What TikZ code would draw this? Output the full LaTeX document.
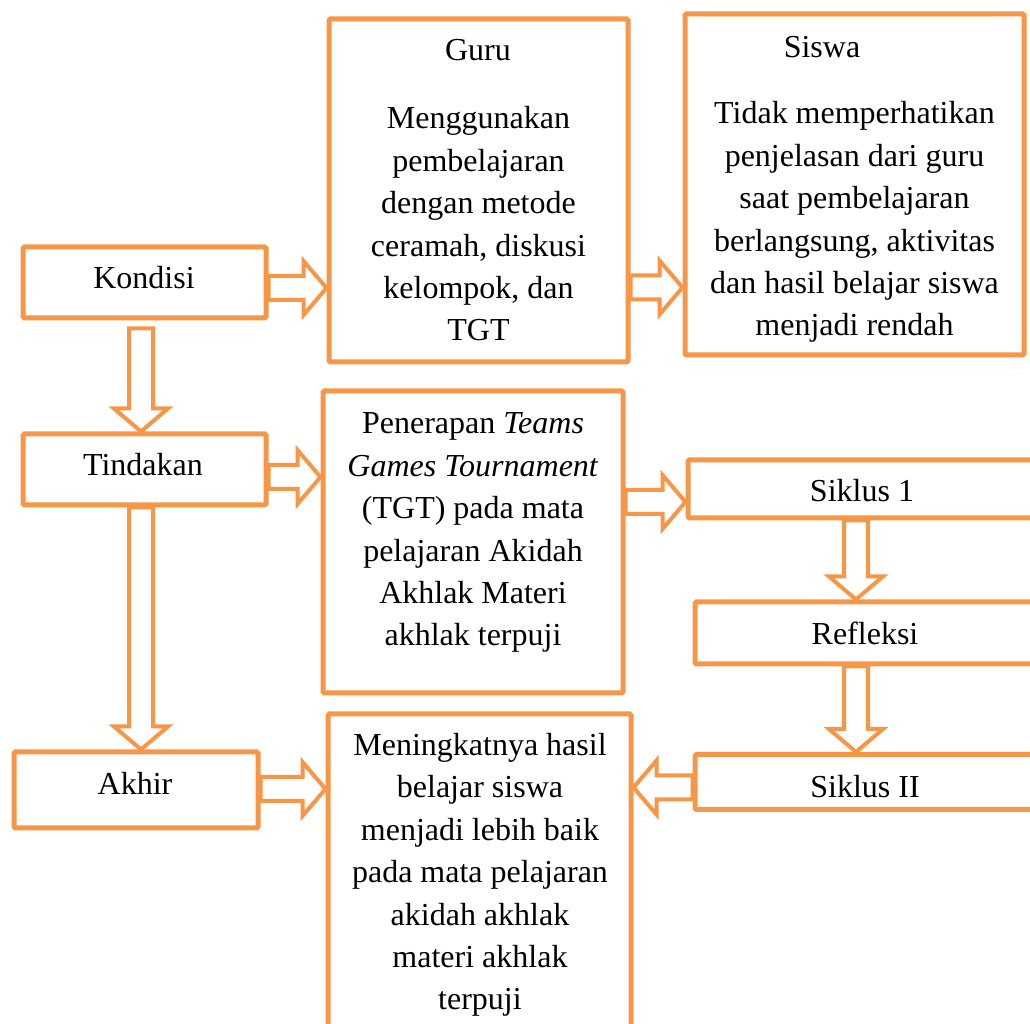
\documentclass[tikz,border=0pt]{standalone}
\usepackage{fontspec}
\setmainfont{Liberation Serif}
\usepackage{tikz}
\usetikzlibrary{calc}
\definecolor{flowOrange}{RGB}{247, 150, 70}

\begin{document}
\begin{tikzpicture}[x=1pt, y=1pt,
    box/.style={rectangle, draw=flowOrange, line width=5pt, rounded corners=1.5pt, fill=white},
    txt/.style={anchor=base, align=center, inner sep=0pt, font=\fontsize{32}{42.4}\selectfont},
    arrow/.style={draw=flowOrange, line width=4pt, fill=white,
      to path={let \p1=(\tikztostart), \p2=(\tikztotarget),
        \n1={atan2(\y2-\y1,\x2-\x1)}, \n2={veclen(\x2-\x1,\y2-\y1)-23} in
        ($(\p1)+(\n1+90:12)$) -- ($(\p1)+(\n1:\n2)+(\n1+90:12)$)
        -- ($(\p1)+(\n1:\n2)+(\n1+90:27)$) -- (\p2)
        -- ($(\p1)+(\n1:\n2)+(\n1-90:27)$) -- ($(\p1)+(\n1:\n2)+(\n1-90:12)$)
        -- ($(\p1)+(\n1-90:12)$) -- cycle}},
  ]
    \clip (0,0) rectangle (1030,1024);

    \node[box, minimum width=243pt, minimum height=71pt] (kondisi) at (144.5,741.5) {};
    \node[box, minimum width=243pt, minimum height=71pt] (tindakan) at (144.5,554.5) {};
    \node[box, minimum width=244pt, minimum height=76pt] (akhir) at (136,234) {};
    \node[box, minimum width=299pt, minimum height=343pt] (guru) at (478.5,833.5) {};
    \node[box, minimum width=339pt, minimum height=341pt] (siswa) at (854.5,839.5) {};
    \node[box, minimum width=300pt, minimum height=302pt] (penerapan) at (473,482) {};
    \node[box, minimum width=303pt, minimum height=326pt] (hasil) at (479.5,147) {};
    \node[box, minimum width=350pt, minimum height=58pt] (siklusI) at (863,535) {};
    \node[box, minimum width=343pt, minimum height=62pt] (refleksi) at (866.5,391) {};
    \node[box, minimum width=341pt, minimum height=55pt] (siklusII) at (865.5,242) {};

    \node[txt] (kondisiText) at (144,735) {Kondisi};
    \node[txt] (tindakanText) at (143,548) {Tindakan};
    \node[txt] (akhirText) at (135,229) {Akhir};
    \node[txt] (guruTitle) at (478,963) {Guru};
    \node[txt] (guruText) at (478.5,683) {Menggunakan\\pembelajaran\\dengan metode\\ceramah, diskusi\\kelompok, dan\\TGT};
    \node[txt] (siswaTitle) at (822,966) {Siswa};
    \node[txt] (siswaText) at (854.5,688) {Tidak memperhatikan\\penjelasan dari guru\\saat pembelajaran\\berlangsung, aktivitas\\dan hasil belajar siswa\\menjadi rendah};
    \node[txt] (penerapanText) at (473,378) {Penerapan \textit{Teams}\\\textit{Games Tournament}\\(TGT) pada mata\\pelajaran Akidah\\Akhlak Materi\\akhlak terpuji};
    \node[txt] (hasilText) at (480,14) {Meningkatnya hasil\\belajar siswa\\menjadi lebih baik\\pada mata pelajaran\\akidah akhlak\\materi akhlak\\terpuji};
    \node[txt] (siklusIText) at (862,522) {Siklus 1};
    \node[txt] (refleksiText) at (865,379) {Refleksi};
    \node[txt] (siklusIIText) at (865,226) {Siklus II};

    \draw[arrow] ([yshift=-5.5pt]kondisi.east) to ([yshift=-5.5pt]kondisi.east -| guru.west);
    \draw[arrow] ([yshift=-5pt]kondisi.east -| guru.east) to ([yshift=-5pt]kondisi.east -| siswa.west);
    \draw[arrow] ([xshift=-3.5pt, yshift=-8pt]kondisi.south) to ([xshift=-3.5pt]kondisi.south |- tindakan.north);
    \draw[arrow] ([yshift=-7.5pt]tindakan.east) to ([yshift=-7.5pt]tindakan.east -| penerapan.west);
    \draw[arrow] ([xshift=-3.5pt]tindakan.south) to ([xshift=-3.5pt]tindakan.south |- akhir.north);
    \draw[arrow] ([yshift=-13pt]siklusI.west -| penerapan.east) to ([yshift=-13pt]siklusI.west);
    \draw[arrow] ([xshift=-7pt]siklusI.south) to ([xshift=-7pt]siklusI.south |- refleksi.north);
    \draw[arrow] ([xshift=-10.5pt]refleksi.south) to ([xshift=-10.5pt]refleksi.south |- siklusII.north);
    \draw[arrow] ([yshift=-5.5pt]siklusII.west) to ([yshift=-5.5pt]siklusII.west -| hasil.east);
    \draw[arrow] ([yshift=1pt]akhir.east) to ([yshift=1pt]akhir.east -| hasil.west);
  \end{tikzpicture}
\end{document}
